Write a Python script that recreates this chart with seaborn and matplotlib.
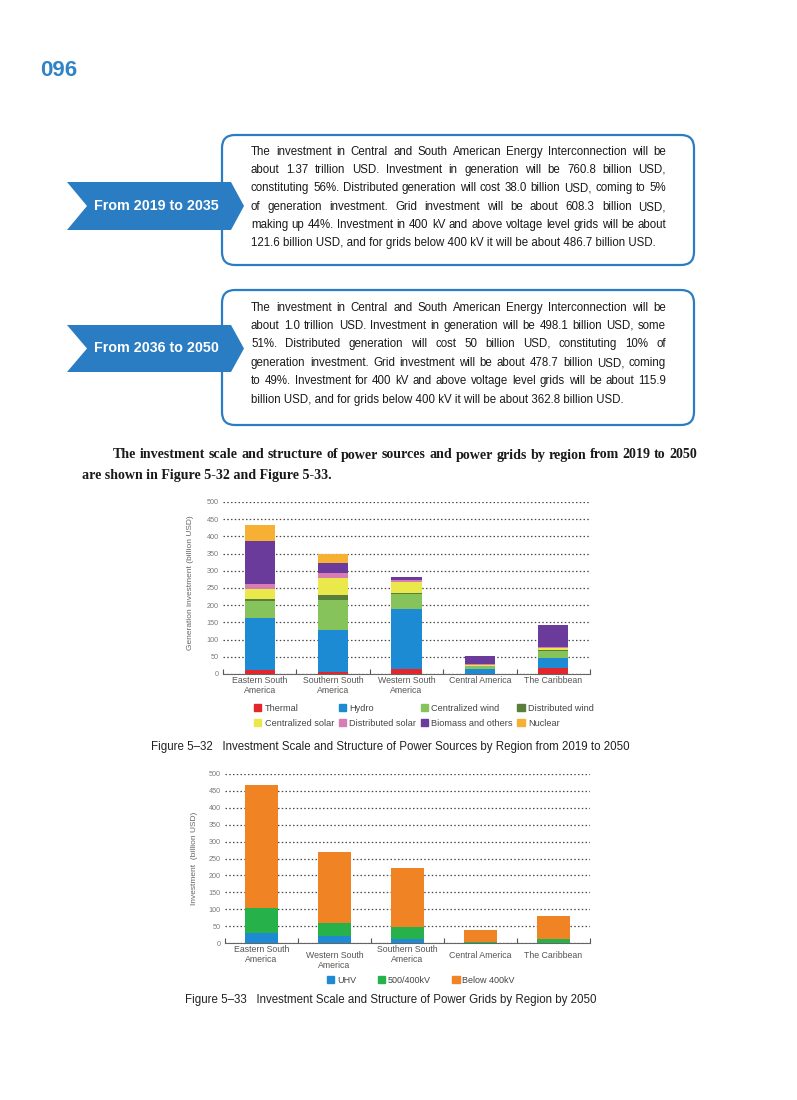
import matplotlib
matplotlib.use("Agg")
import matplotlib.pyplot as plt
import numpy as np
import seaborn as sns
from matplotlib import font_manager
from matplotlib.patches import FancyBboxPatch, Polygon, Patch
from matplotlib.transforms import blended_transform_factory

# ---- data -------------------------------------------------------------
gen_regions = ["Eastern South\nAmerica", "Southern South\nAmerica", "Western South\nAmerica",
               "Central America", "The Caribbean"]
gen_labels = ["Thermal", "Hydro", "Centralized wind", "Distributed wind",
              "Centralized solar", "Distributed solar", "Biomass and others", "Nuclear"]
thermal = [12, 6, 15.5, 1, 17.5]
hydro = [150, 121, 174.5, 13.5, 29]
central_wind = [50, 88.5, 43, 7.5, 21.5]
distrib_wind = [7, 13.5, 2, 1, 2]
central_solar = [29, 51, 31.5, 3, 6]
distrib_solar = [13, 15, 7.5, 2, 2]
biomass = [127, 29, 9, 24, 63]
nuclear = [44, 26, 0, 0, 0]

grid_regions = ["Eastern South\nAmerica", "Western South\nAmerica", "Southern South\nAmerica",
                "Central America", "The Caribbean"]
grid_labels = ["UHV", "500/400kV", "Below 400kV"]
uhv = [31, 21, 13, 0, 0]
kv500 = [73, 37, 35, 4, 13]
below400 = [364, 212, 175, 35.5, 68]

box1_lines = [
    "The investment in Central and South American Energy Interconnection will be",
    "about 1.37 trillion USD. Investment in generation will be 760.8 billion USD,",
    "constituting 56%. Distributed generation will cost 38.0 billion USD, coming to 5%",
    "of generation investment. Grid investment will be about 608.3 billion USD,",
    "making up 44%. Investment in 400 kV and above voltage level grids will be about",
    "121.6 billion USD, and for grids below 400 kV it will be about 486.7 billion USD.",
]
box2_lines = [
    "The investment in Central and South American Energy Interconnection will be",
    "about 1.0 trillion USD. Investment in generation will be 498.1 billion USD, some",
    "51%. Distributed generation will cost 50 billion USD, constituting 10% of",
    "generation investment. Grid investment will be about 478.7 billion USD, coming",
    "to 49%. Investment for 400 kV and above voltage level grids will be about 115.9",
    "billion USD, and for grids below 400 kV it will be about 362.8 billion USD.",
]
para_lines = [
    "The investment scale and structure of power sources and power grids by region from 2019 to 2050",
    "are shown in Figure 5-32 and Figure 5-33.",
]

# ---- style ------------------------------------------------------------
BLUE = "#2a7dc2"
gen_colors = ["#e3262c", "#1d8bd3", "#86c35a", "#5a7f3a",
              "#ebe84c", "#d87cb5", "#6a3b9b", "#f6b034"]
grid_colors = ["#1e8ad4", "#27b14a", "#f08424"]

sns.set_theme(style="white")
available = {f.name for f in font_manager.fontManager.ttflist}
SANS = "Liberation Sans"
NARROW = "Liberation Sans Narrow" if "Liberation Sans Narrow" in available else SANS
SERIF = "Liberation Serif"
plt.rcParams["font.family"] = [SANS, "DejaVu Sans"]

W, H = 797, 1100
fig = plt.figure(figsize=(W / 100, H / 100), dpi=100)
renderer = fig.canvas.get_renderer()


def put(x, y, s, **kw):
    # x, y in pixels from the top-left corner
    return fig.text(x / 100, (H - y) / 100, s, transform=fig.dpi_scale_trans, **kw)


def text_width(s, size, **kw):
    t = put(0, 0, s, fontsize=size, **kw)
    w = t.get_window_extent(renderer).width
    t.remove()
    return w


def fit_size(lines, target, size, **kw):
    while size > 5 and max(text_width(l, size, **kw) for l in lines) > target:
        size -= 0.1
    return size


def write_block(x0, x1, ys, lines, size, justify_last=False, **kw):
    for i, (y, line) in enumerate(zip(ys, lines)):
        if i == len(lines) - 1 and not justify_last:
            put(x0, y, line, fontsize=size, va="center", ha="left", **kw)
            continue
        words = line.split()
        texts = [put(0, y, w, fontsize=size, va="center", ha="left", **kw) for w in words]
        widths = [t.get_window_extent(renderer).width for t in texts]
        gap = (x1 - x0 - sum(widths)) / max(len(words) - 1, 1)
        x = x0
        for t, w in zip(texts, widths):
            t.set_position((x / 100, (H - y) / 100))
            x += w + gap


def info_box(top, bottom, chev_top, chev_bot, title, lines, ys, size):
    box = FancyBboxPatch((222 / 100, (H - bottom) / 100), (694 - 222) / 100, (bottom - top) / 100,
                         boxstyle="round,pad=0,rounding_size=0.13", transform=fig.dpi_scale_trans,
                         fc="white", ec=BLUE, lw=1.6, zorder=1)
    fig.add_artist(box)
    mid = (chev_top + chev_bot) / 2
    pts = [(67, chev_top), (231, chev_top), (244, mid), (231, chev_bot), (67, chev_bot), (87, mid)]
    chev = Polygon([(x / 100, (H - y) / 100) for x, y in pts], closed=True,
                   transform=fig.dpi_scale_trans, fc=BLUE, ec="none", zorder=2)
    fig.add_artist(chev)
    put(156, mid, title, fontsize=10.3, fontweight="bold", color="white",
        ha="center", va="center", zorder=3)
    write_block(251, 666, ys, lines, size, color="#1a1a1a", family=[NARROW, SANS])


# ---- page header and boxes -------------------------------------------
put(40, 70, "096", fontsize=16, fontweight="bold", color="#2f83c6", ha="left", va="center")

box_size = fit_size(box1_lines + box2_lines, 414, 8.8, family=[NARROW, SANS])
info_box(135, 265, 182, 230, "From 2019 to 2035", box1_lines,
         [152, 170, 188, 207, 225, 243], box_size)
info_box(290, 425, 325, 372, "From 2036 to 2050", box2_lines,
         [308, 326, 344, 363, 381, 400], box_size)

para_size = fit_size(para_lines[:1], 584, 10.5, family=SERIF, fontweight="bold")
write_block(113, 697, [455], para_lines[:1], para_size, justify_last=True,
            family=SERIF, fontweight="bold", color="#1a1a1a")
put(82, 476, para_lines[1], fontsize=para_size, family=SERIF, fontweight="bold",
    color="#1a1a1a", va="center", ha="left")


# ---- charts -----------------------------------------------------------
def stacked_chart(rect, regions, layers, colors, width, label_dy):
    left, top, right, bottom = rect
    ax = fig.add_axes([left / W, (H - bottom) / H, (right - left) / W, (bottom - top) / H])
    cum = np.cumsum(np.array(layers, dtype=float), axis=0)
    for i in range(len(layers) - 1, -1, -1):
        sns.barplot(x=regions, y=cum[i], color=colors[i], width=width, saturation=1,
                    linewidth=0, ax=ax, zorder=3)
    ax.set_xlim(-0.5, len(regions) - 0.5)
    ax.set_ylim(0, 500)
    ax.set_yticks(np.arange(0, 501, 50))
    ax.set_xticks([])
    ax.set_xticks(np.arange(-0.5, len(regions)), minor=True)
    ax.tick_params(axis="x", which="minor", direction="in", length=3.5, width=0.8,
                   color="#555555", bottom=True)
    ax.tick_params(axis="y", length=0, pad=3, labelsize=5.2, labelcolor="#7a7a7a")
    ax.yaxis.grid(True, linestyle=(0, (1.2, 1.8)), color="#4a4a4a", lw=0.9, zorder=0)
    ax.set_axisbelow(True)
    for s in ["top", "right", "left"]:
        ax.spines[s].set_visible(False)
    ax.spines["bottom"].set_color("#666666")
    ax.spines["bottom"].set_linewidth(0.8)
    ax.set_xlabel("")
    ax.set_ylabel("")
    trans = blended_transform_factory(ax.transData, fig.dpi_scale_trans)
    for i, (name, dy) in enumerate(zip(regions, label_dy)):
        ax.text(i, (H - bottom - 2 - dy) / 100, name, transform=trans, ha="center", va="top",
                fontsize=6.3, color="#555555", linespacing=1.15)
    return ax


ax1 = stacked_chart((223, 502, 590, 674), gen_regions,
                    [thermal, hydro, central_wind, distrib_wind,
                     central_solar, distrib_solar, biomass, nuclear],
                    gen_colors, 0.41, [0, 0, 0, 0, 0])
put(191, 583, "Generation investment (billion USD)", fontsize=6, color="#666666",
    rotation=90, ha="center", va="center")
# legend is filled column by column, so interleave the two rows
handles1 = [Patch(color=gen_colors[i], label=gen_labels[i]) for i in [0, 4, 1, 5, 2, 6, 3, 7]]
fig.legend(handles=handles1, ncol=4, loc="upper left", frameon=False,
           bbox_to_anchor=(254 / 100, (H - 704) / 100), bbox_transform=fig.dpi_scale_trans,
           fontsize=6.6, handlelength=0.8, handleheight=0.8, handletextpad=0.35,
           columnspacing=0.5, labelspacing=0.6, borderpad=0, borderaxespad=0,
           labelcolor="#444444")
put(390, 747, "Figure 5\u201332   Investment Scale and Structure of Power Sources by Region from 2019 to 2050",
    fontsize=8.3, color="#222222", ha="center", va="center")

ax2 = stacked_chart((225, 774, 590, 943), grid_regions, [uhv, kv500, below400],
                    grid_colors, 0.45, [0, 6, 0, 6, 6])
put(195, 858, "Investment  (billion USD)", fontsize=6, color="#666666",
    rotation=90, ha="center", va="center")
handles2 = [Patch(color=c, label=l) for c, l in zip(grid_colors, grid_labels)]
fig.legend(handles=handles2, ncol=3, loc="upper left", frameon=False,
           bbox_to_anchor=(327 / 100, (H - 976) / 100), bbox_transform=fig.dpi_scale_trans,
           fontsize=6.5, handlelength=0.8, handleheight=0.8, handletextpad=0.3,
           columnspacing=2.4, borderpad=0, borderaxespad=0, labelcolor="#444444")
put(391, 1000, "Figure 5\u201333   Investment Scale and Structure of Power Grids by Region by 2050",
    fontsize=8.3, color="#222222", ha="center", va="center")

fig.savefig("out.png", dpi=100, facecolor="white")
plt.close(fig)
